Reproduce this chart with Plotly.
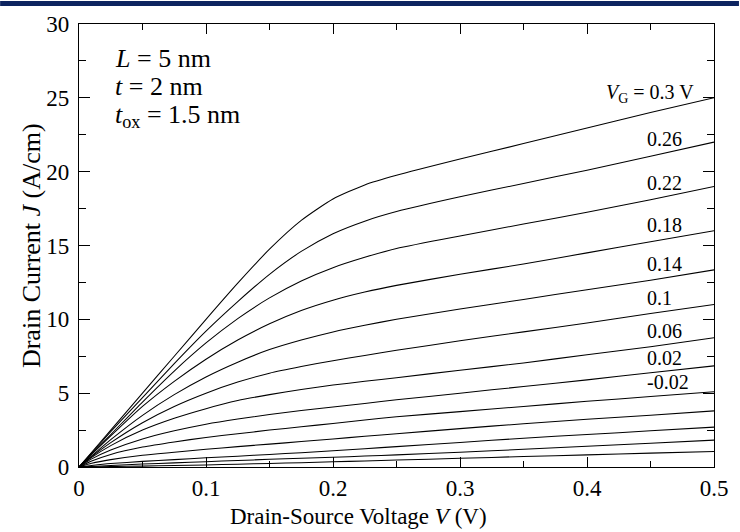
import numpy as np
import plotly.graph_objects as go

# Drain-source voltage sample points (V)
V = [0, 0.01, 0.025, 0.05, 0.075, 0.1, 0.125, 0.15, 0.175, 0.2, 0.225, 0.25, 0.3, 0.35, 0.4, 0.45, 0.5]

# Gate voltages (V)
VG = [0.3, 0.26, 0.22, 0.18, 0.14, 0.1, 0.06, 0.02, -0.02, -0.06, -0.1, -0.14, -0.18]

# Drain current J (A/cm) for each gate voltage
J_030 = [0, 1.0, 2.5, 5.0, 7.5, 10.0, 12.45, 14.75, 16.7, 18.15, 19.1, 19.75, 20.85, 21.9, 22.95, 24.0, 25.0]
J_026 = [0, 0.95, 2.4, 4.7, 7.0, 9.2, 11.2, 13.05, 14.6, 15.8, 16.65, 17.3, 18.3, 19.2, 20.1, 21.05, 22.0]
J_022 = [0, 0.9, 2.2, 4.4, 6.5, 8.4, 10.05, 11.45, 12.6, 13.5, 14.2, 14.8, 15.65, 16.45, 17.25, 18.1, 19.0]
J_018 = [0, 0.85, 2.1, 4.1, 5.8, 7.3, 8.6, 9.7, 10.6, 11.3, 11.85, 12.3, 13.05, 13.75, 14.5, 15.25, 16.0]
J_014 = [0, 0.75, 1.85, 3.5, 4.9, 6.1, 7.1, 7.95, 8.6, 9.15, 9.6, 10.0, 10.7, 11.35, 12.0, 12.65, 13.35]
J_010 = [0, 0.7, 1.65, 3.0, 4.1, 5.0, 5.75, 6.35, 6.8, 7.2, 7.55, 7.9, 8.55, 9.15, 9.75, 10.4, 11.0]
J_006 = [0, 0.65, 1.45, 2.5, 3.3, 3.95, 4.5, 4.9, 5.25, 5.55, 5.8, 6.05, 6.55, 7.05, 7.6, 8.15, 8.75]
J_002 = [0, 0.55, 1.15, 1.9, 2.45, 2.9, 3.25, 3.55, 3.82, 4.07, 4.3, 4.55, 5.0, 5.45, 5.9, 6.38, 6.85]
J_m002 = [0, 0.4, 0.85, 1.35, 1.7, 2.0, 2.25, 2.5, 2.72, 2.95, 3.18, 3.4, 3.75, 4.1, 4.45, 4.77, 5.1]
J_m006 = [0, 0.25, 0.5, 0.8, 1.0, 1.2, 1.38, 1.55, 1.72, 1.9, 2.08, 2.25, 2.6, 2.93, 3.23, 3.5, 3.8]
J_m010 = [0, 0.1, 0.23, 0.38, 0.5, 0.62, 0.73, 0.85, 0.97, 1.1, 1.24, 1.38, 1.66, 1.95, 2.2, 2.45, 2.7]
J_m014 = [0, 0.04, 0.1, 0.2, 0.28, 0.36, 0.44, 0.52, 0.59, 0.66, 0.74, 0.82, 1.0, 1.2, 1.4, 1.61, 1.82]
J_m018 = [0, 0.01, 0.03, 0.06, 0.1, 0.14, 0.19, 0.24, 0.29, 0.35, 0.41, 0.47, 0.59, 0.71, 0.82, 0.94, 1.05]

J_all = [J_030, J_026, J_022, J_018, J_014, J_010, J_006, J_002, J_m002, J_m006, J_m010, J_m014, J_m018]

# Which curves carry a value label on the right
label_text = ["0.26", "0.22", "0.18", "0.14", "0.1", "0.06", "0.02", "-0.02"]

x_ticks = [0, 0.1, 0.2, 0.3, 0.4, 0.5]
x_ticklabels = ["0", "0.1", "0.2", "0.3", "0.4", "0.5"]
y_ticks = [0, 5, 10, 15, 20, 25, 30]
y_ticklabels = ["0", "5", "10", "15", "20", "25", "30"]

SERIF = "Liberation Serif, Times New Roman, serif"

fig = go.Figure()
for vg, J in zip(VG, J_all):
    fig.add_trace(go.Scatter(
        x=V, y=J, mode="lines", name=f"VG={vg}",
        line=dict(color="black", width=1.05, shape="spline", smoothing=0.6),
        showlegend=False, hoverinfo="skip",
    ))

annotations = []
# Right-hand curve labels
lab_x = 0.446
for txt, J in zip(label_text, J_all[1:1 + len(label_text)]):
    yv = float(np.interp(0.465, V, J))
    annotations.append(dict(
        x=lab_x, y=yv, xref="x", yref="y", text=txt, showarrow=False,
        xanchor="left", yanchor="bottom", yshift=0,
        font=dict(family=SERIF, size=20, color="black"),
    ))
# V_G label for top curve
annotations.append(dict(
    x=0.486, y=float(np.interp(0.45, V, J_030)), xref="x", yref="y",
    text="<i>V</i><sub>G</sub> = 0.3 V", showarrow=False,
    xanchor="right", yanchor="bottom", yshift=5,
    font=dict(family=SERIF, size=20, color="black"),
))
# Device parameters
params = ["<i>L</i> = 5 nm", "<i>t</i> = 2 nm", "<i>t</i><sub>ox</sub> = 1.5 nm"]
param_y = [0.921, 0.858, 0.792]
for txt, py in zip(params, param_y):
    annotations.append(dict(
        x=0.054, y=py, xref="paper", yref="paper", text=txt, showarrow=False,
        xanchor="left", yanchor="middle",
        font=dict(family=SERIF, size=26, color="black"),
    ))
# Axis titles
annotations.append(dict(
    x=0.44, y=-50 / 445, xref="paper", yref="paper",
    text="Drain-Source Voltage <i>V</i> (V)", showarrow=False,
    xanchor="center", yanchor="middle",
    font=dict(family=SERIF, size=23, color="black"),
))
annotations.append(dict(
    x=-47 / 636, y=(467 - 245) / 445, xref="paper", yref="paper",
    text="Drain Current <i>J</i> (A/cm)", showarrow=False, textangle=-90,
    xanchor="center", yanchor="middle",
    font=dict(family=SERIF, size=26, color="black"),
))

fig.update_layout(
    width=740, height=532,
    margin=dict(l=79, r=25, t=22, b=65),
    paper_bgcolor="white", plot_bgcolor="white",
    annotations=annotations,
    shapes=[dict(type="rect", xref="paper", yref="paper",
                 x0=-79 / 636, x1=1 + 25 / 636, y0=1 + 18 / 445, y1=1 + 23 / 445,
                 fillcolor="#0d2460", line=dict(width=0), layer="above")],
    font=dict(family=SERIF, color="black"),
)
fig.update_xaxes(
    range=[0, 0.5], tickvals=x_ticks, ticktext=x_ticklabels,
    ticks="inside", ticklen=10, tickwidth=1, tickcolor="black",
    minor=dict(dtick=0.05, ticks="inside", ticklen=6, tickwidth=1, tickcolor="black"),
    showline=True, linecolor="black", linewidth=1.2, mirror="ticks",
    showgrid=False, zeroline=False,
    tickfont=dict(family=SERIF, size=23),
)
fig.update_yaxes(
    range=[0, 30], tickvals=y_ticks, ticktext=y_ticklabels,
    ticks="inside", ticklen=11, tickwidth=1, tickcolor="black",
    minor=dict(dtick=2.5, ticks="inside", ticklen=7, tickwidth=1, tickcolor="black"),
    showline=True, linecolor="black", linewidth=1.2, mirror="ticks",
    showgrid=False, zeroline=False, ticklabelstandoff=4,
    tickfont=dict(family=SERIF, size=23),
)

fig.write_html("out.html")
